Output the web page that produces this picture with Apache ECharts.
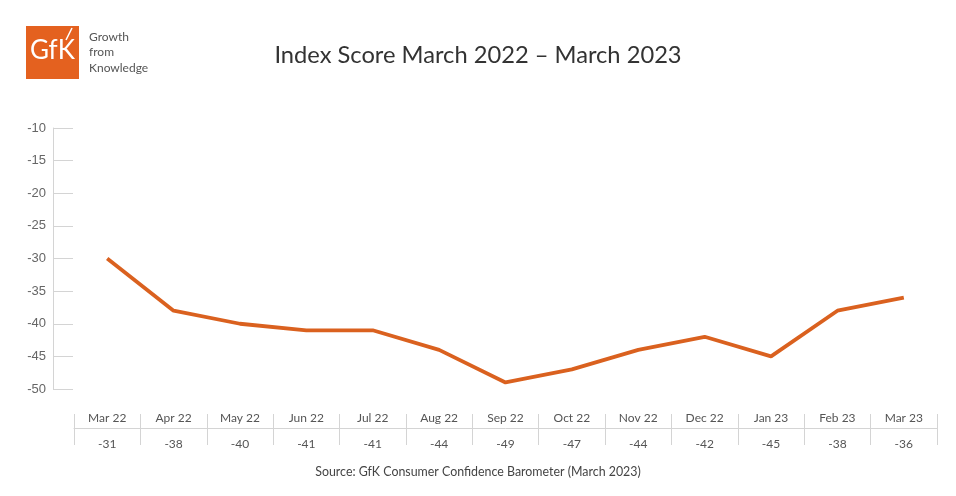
<!DOCTYPE html>
<html>
<head>
<meta charset="utf-8">
<script src="https://cdn.jsdelivr.net/npm/echarts@6/dist/echarts.min.js"></script>
<style>
  html, body { margin: 0; padding: 0; background: #fff; }
  #chart { width: 956px; height: 496px; }
</style>
</head>
<body>
<div id="chart"></div>
<script>
// months along the bottom
var months = ['Mar 22', 'Apr 22', 'May 22', 'Jun 22', 'Jul 22', 'Aug 22', 'Sep 22',
              'Oct 22', 'Nov 22', 'Dec 22', 'Jan 23', 'Feb 23', 'Mar 23'];
// where the line is drawn
var indexScores = [-30, -38, -40, -41, -41, -44, -49, -47, -44, -42, -45, -38, -36];
// values printed in the table row under the months
var tableValues = ['-31', '-38', '-40', '-41', '-41', '-44', '-49', '-47', '-44', '-42', '-45', '-38', '-36'];
var yTicks = { min: -50, max: -10, step: 5 };

var orange = '#DA611F';
var grey = '#d4d4d4';
var font = 'Lato, "Noto Sans", sans-serif';

var chart = echarts.init(document.getElementById('chart'));
chart.setOption({
    backgroundColor: '#fff',
    animation: false,
    title: {
        text: 'Index Score March 2022 \u2013 March 2023',
        left: 'center',
        top: 38,
        textStyle: { fontFamily: font, fontSize: 23.7, fontWeight: 'normal', color: '#333' }
    },
    grid: { left: 74, right: 19, top: 128, bottom: 107 },
    xAxis: [
        {
            type: 'category',
            data: months,
            offset: 25,
            axisLine: { show: false },
            axisTick: { show: true, length: 31, lineStyle: { color: grey } },
            axisLabel: {
                interval: 0, margin: 4, verticalAlign: 'middle',
                fontFamily: font, fontSize: 12, color: '#555'
            }
        },
        {
            type: 'category',
            data: months,
            position: 'bottom',
            offset: 39,
            axisLine: { show: true, lineStyle: { color: grey } },
            axisTick: { show: false },
            axisLabel: {
                interval: 0, margin: 16, verticalAlign: 'middle',
                fontFamily: font, fontSize: 12, color: '#555',
                formatter: function (v, i) { return tableValues[i]; }
            }
        }
    ],
    yAxis: {
        type: 'value',
        min: yTicks.min,
        max: yTicks.max,
        interval: yTicks.step,
        offset: 21,
        axisLine: { show: true, lineStyle: { color: grey } },
        axisTick: { show: true, inside: true, length: 20, lineStyle: { color: grey } },
        splitLine: { show: false },
        axisLabel: { margin: 7, fontFamily: '"Liberation Sans", Arial, sans-serif', fontSize: 13, color: '#666' }
    },
    series: [{
        type: 'line',
        data: indexScores,
        xAxisIndex: 0,
        symbol: 'none',
        lineStyle: { color: orange, width: 3.8 }
    }],
    graphic: [
        { type: 'rect', left: 26, top: 26, shape: { width: 53, height: 53 }, style: { fill: '#E4611F' } },
        { type: 'text', left: 30, top: 38, style: { text: 'GfK', fill: '#fff', fontFamily: font, fontSize: 26, fontWeight: 'normal' } },
        { type: 'line', shape: { x1: 66, y1: 40, x2: 72, y2: 28 }, style: { stroke: '#fff', lineWidth: 1.5 } },
        { type: 'text', left: 89, top: 29, style: { text: 'Growth\nfrom\nKnowledge', fill: '#555', fontFamily: font, fontSize: 12, lineHeight: 15.5 } },
        { type: 'text', left: 'center', top: 466, style: { text: 'Source: GfK Consumer Confidence Barometer (March 2023)', fill: '#444', fontFamily: font, fontSize: 12.4 } }
    ]
});
</script>
</body>
</html>
